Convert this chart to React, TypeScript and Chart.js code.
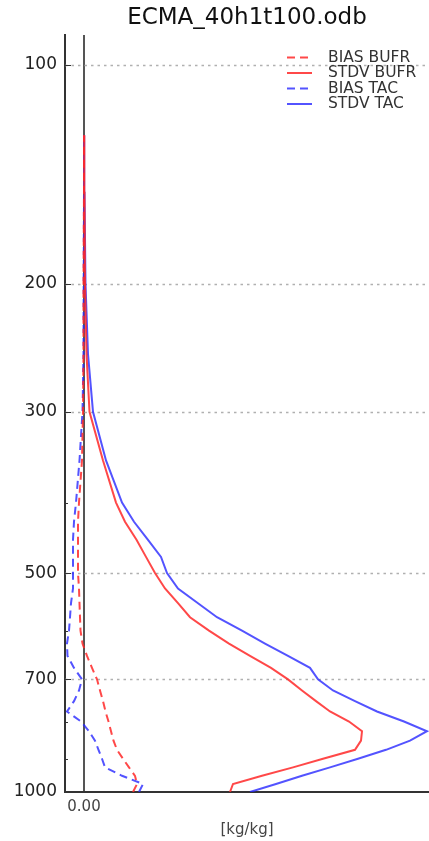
import React, { useEffect, useRef } from 'react';
import { Chart, registerables } from 'chart.js';

Chart.register(...registerables);

// Pressure levels (hPa)
const levels = [1000, 975, 950, 925, 900, 875, 850, 825, 800, 775, 750, 725, 700, 675, 650, 625, 600, 575, 550, 525, 500, 475, 450, 425, 400, 350, 300, 250, 200, 150, 125];

// Series values (kg/kg)
const biasBufr = [0.00049, 0.00053, 0.00051, 0.00045, 0.00039, 0.00033, 0.000295, 0.00027, 0.000245, 0.000215, 0.00019, 0.00016, 0.00013, 0.00008, 0.00003, -0.000015, -0.000035, -0.00004, -0.000045, -0.00005, -0.00006, -0.00006, -0.00006, -0.00006, -0.00005, -0.00002, -0.00001, -0.000005, -0.000005, 0, 0];
const stdvBufr = [0.00146, 0.00149, 0.00178, 0.00209, 0.00239, 0.00271, 0.00277, 0.00278, 0.00265, 0.00246, 0.00232, 0.00218, 0.00204, 0.00187, 0.00166, 0.00145, 0.00125, 0.00106, 0.00094, 0.00081, 0.00071, 0.00062, 0.000525, 0.00041, 0.00032, 0.00019, 0.000055, 0.000025, 0.00001, 0.000005, 0.000003];
const biasTac = [0.00055, 0.00059, 0.00038, 0.00021, 0.00018, 0.000145, 0.00011, 0.00005, -0.00003, -0.00017, -0.0001, -0.00005, -0.00002, -0.0001, -0.000165, -0.00017, -0.00015, -0.00014, -0.00013, -0.00011, -0.00011, -0.00011, -0.00011, -0.0001, -0.00008, -0.000045, -0.000015, -0.000005, -0.000003, 0, 0];
const stdvTac = [0.00166, 0.00192, 0.00218, 0.00246, 0.00274, 0.00302, 0.00326, 0.00343, 0.0032, 0.00293, 0.00271, 0.00249, 0.00234, 0.00226, 0.00204, 0.00181, 0.00158, 0.00133, 0.00114, 0.00094, 0.00083, 0.00077, 0.00064, 0.0005, 0.00038, 0.00022, 0.00009, 0.00004, 0.000015, 0.000005, 0.000002];

// Axis ticks
const yMajorTicks = [100, 200, 300, 500, 700, 1000];
const yMinorTicks = [400, 600, 800, 900];
const yGridLines = [100, 200, 300, 500, 700];
const xTicks = [0];

const titleText = 'ECMA_40h1t100.odb';
const xTitle = '[kg/kg]';

const RED = 'rgba(255,40,40,0.85)';
const BLUE = 'rgba(40,40,255,0.8)';
const DASH = [8, 5];

const seriesDefs = [
  { label: 'BIAS BUFR', values: biasBufr, color: RED, dash: DASH },
  { label: 'STDV BUFR', values: stdvBufr, color: RED, dash: [] as number[] },
  { label: 'BIAS TAC', values: biasTac, color: BLUE, dash: DASH },
  { label: 'STDV TAC', values: stdvTac, color: BLUE, dash: [] as number[] },
];

const FONT = "'DejaVu Sans', sans-serif";

export default function App() {
  const ref = useRef<HTMLCanvasElement>(null);

  useEffect(() => {
    const canvas = ref.current;
    if (!canvas) return;

    const decor = {
      id: 'decor',
      beforeDatasetsDraw(chart: any) {
        const { ctx, chartArea, scales } = chart;
        const { left, right } = chartArea;
        const y = scales.y;
        ctx.save();
        ctx.strokeStyle = '#b0b0b0';
        ctx.lineWidth = 1.5;
        ctx.setLineDash([2.5, 4]);
        for (const v of yGridLines) {
          const py = Math.round(y.getPixelForValue(v)) + 0.5;
          ctx.beginPath();
          ctx.moveTo(left, py);
          ctx.lineTo(right, py);
          ctx.stroke();
        }
        ctx.setLineDash([]);
        ctx.strokeStyle = '#333';
        ctx.lineWidth = 1;
        for (const v of yMajorTicks) {
          const py = Math.round(y.getPixelForValue(v)) + 0.5;
          ctx.beginPath();
          ctx.moveTo(left, py);
          ctx.lineTo(left + 6, py);
          ctx.stroke();
        }
        for (const v of yMinorTicks) {
          const py = Math.round(y.getPixelForValue(v)) + 0.5;
          ctx.beginPath();
          ctx.moveTo(left, py);
          ctx.lineTo(left + 3, py);
          ctx.stroke();
        }
        ctx.restore();
      },
      afterDraw(chart: any) {
        const { ctx, chartArea } = chart;
        const { right, top } = chartArea;
        ctx.save();
        ctx.font = `15.5px ${FONT}`;
        ctx.textBaseline = 'middle';
        ctx.textAlign = 'left';
        seriesDefs.forEach((s, i) => {
          const ry = top + 22.5 + i * 15.5;
          ctx.strokeStyle = s.color;
          ctx.lineWidth = 2;
          ctx.setLineDash(s.dash);
          ctx.beginPath();
          ctx.moveTo(right - 142, ry);
          ctx.lineTo(right - 117, ry);
          ctx.stroke();
          ctx.setLineDash([]);
          ctx.fillStyle = '#333';
          ctx.fillText(s.label, right - 101, ry);
        });
        ctx.restore();
      },
    };

    const chart = new Chart(canvas, {
      type: 'scatter',
      data: {
        datasets: seriesDefs.map((s) => ({
          label: s.label,
          data: s.values.map((v, i) => ({ x: v, y: levels[i] })),
          showLine: true,
          borderColor: s.color,
          backgroundColor: s.color,
          borderWidth: 2,
          borderDash: s.dash,
          pointRadius: 0,
          pointHoverRadius: 0,
          tension: 0,
        })),
      },
      options: {
        responsive: false,
        animation: false,
        layout: { padding: 0 },
        plugins: {
          legend: { display: false },
          tooltip: { enabled: false },
          title: {
            display: true,
            text: titleText,
            fullSize: false,
            color: '#111',
            font: { family: FONT, size: 23, weight: 'normal' },
            padding: { top: 4, bottom: 3.4 },
          },
        },
        scales: {
          x: {
            type: 'linear',
            min: -0.00019,
            max: 0.00345,
            afterFit: (scale: any) => {
              scale.height = 49;
            },
            afterBuildTicks: (scale: any) => {
              scale.ticks = xTicks.map((v) => ({ value: v }));
            },
            ticks: {
              callback: (v: any) => Number(v).toFixed(2),
              color: '#444',
              font: { family: FONT, size: 15 },
              padding: 6,
              maxRotation: 0,
            },
            grid: {
              color: '#555',
              lineWidth: 2,
              drawTicks: false,
            },
            border: { display: true, color: '#333', width: 2 },
            title: {
              display: true,
              text: xTitle,
              color: '#444',
              font: { family: FONT, size: 15 },
              padding: { top: 2, bottom: 2 },
            },
          },
          y: {
            type: 'logarithmic',
            reverse: true,
            min: 91,
            max: 1000,
            afterFit: (scale: any) => {
              scale.width = 65;
            },
            afterBuildTicks: (scale: any) => {
              scale.ticks = [...yMajorTicks, ...yMinorTicks]
                .sort((a, b) => a - b)
                .map((v) => ({ value: v }));
            },
            ticks: {
              callback: (v: any) => (yMajorTicks.includes(Number(v)) ? String(v) : ''),
              color: '#222',
              font: { family: FONT, size: 17 },
              padding: 8,
              autoSkip: false,
            },
            grid: { display: false, drawTicks: false },
            border: { display: true, color: '#333', width: 2 },
          },
        },
      },
      plugins: [decor],
    } as any);

    return () => chart.destroy();
  }, []);

  return (
    <div style={{ position: 'fixed', left: 0, top: 0, width: 429, height: 841, background: '#fff' }}>
      <canvas ref={ref} width={429} height={841} style={{ display: 'block', width: 429, height: 841 }} />
    </div>
  );
}
